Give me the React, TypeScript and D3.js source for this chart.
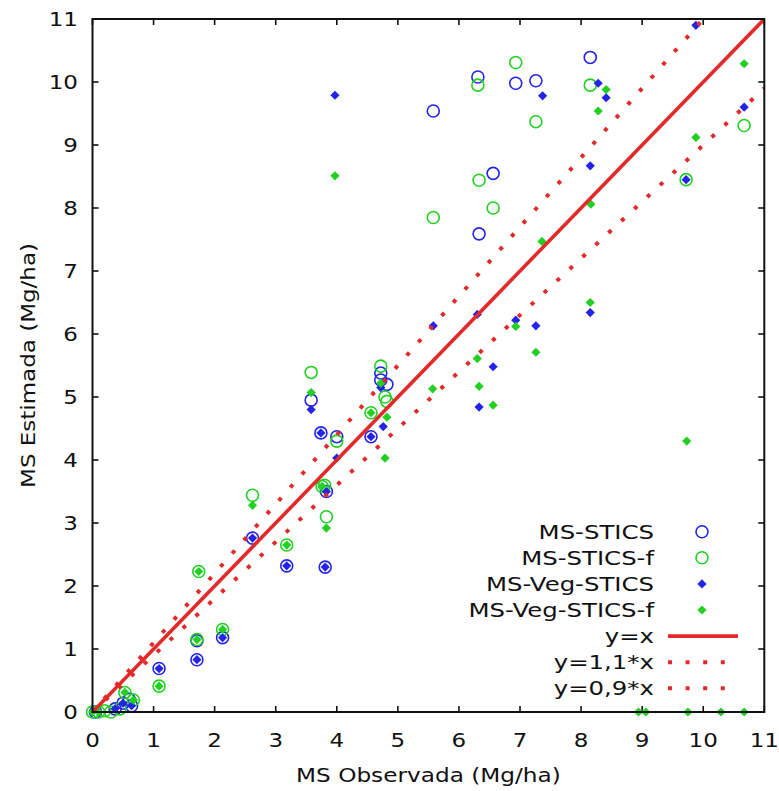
import React from "react";
import * as d3 from "d3";

const W = 779;
const H = 791;

const xTicks = [0, 1, 2, 3, 4, 5, 6, 7, 8, 9, 10, 11];
const yTicks = [0, 1, 2, 3, 4, 5, 6, 7, 8, 9, 10, 11];
const xLabel = "MS Observada (Mg/ha)";
const yLabel = "MS Estimada (Mg/ha)";

// [observed, estimated]
const msStics: [number, number][] = [
  [0.05, 0.0], [0.37, 0.05], [0.5, 0.14], [0.64, 0.1], [0.6, 0.2],
  [1.09, 0.69], [1.71, 0.83], [1.71, 1.13], [2.13, 1.18], [2.62, 2.76],
  [3.18, 2.32], [3.58, 4.95], [3.74, 4.43], [3.81, 2.3], [3.83, 3.5],
  [4.0, 4.37], [4.56, 4.37], [4.72, 5.38], [4.72, 5.27], [4.82, 5.2],
  [5.58, 9.54], [6.31, 10.08], [6.33, 7.59], [6.56, 8.55], [6.93, 9.98],
  [7.26, 10.02], [8.15, 10.39],
];

const msSticsF: [number, number][] = [
  [0.0, 0.0], [0.1, 0.0], [0.2, 0.02], [0.3, 0.0], [0.45, 0.05],
  [0.53, 0.31], [0.67, 0.19], [1.09, 0.41], [1.71, 1.15], [1.74, 2.23],
  [2.13, 1.31], [2.62, 3.44], [3.18, 2.65], [3.58, 5.39], [3.76, 3.58],
  [3.8, 3.6], [3.83, 3.1], [4.0, 4.3], [4.56, 4.75], [4.72, 5.49],
  [4.79, 5.0], [4.82, 4.93], [5.58, 7.85], [6.31, 9.95], [6.33, 8.44],
  [6.56, 8.0], [6.93, 10.31], [7.26, 9.37], [8.15, 9.95], [9.72, 8.45],
  [10.67, 9.31],
];

const msVegStics: [number, number][] = [
  [0.37, 0.05], [0.5, 0.14], [0.64, 0.1], [1.09, 0.69], [1.71, 0.83],
  [2.13, 1.18], [2.62, 2.76], [3.18, 2.32], [3.58, 4.8], [3.74, 4.43],
  [3.81, 2.3], [3.83, 3.5], [3.97, 9.79], [4.0, 4.03], [4.56, 4.37],
  [4.72, 5.15], [4.76, 4.53], [5.58, 6.13], [6.3, 6.31], [6.33, 4.84],
  [6.56, 5.48], [6.93, 6.22], [7.26, 6.13], [7.37, 9.78], [8.15, 8.67],
  [8.15, 6.34], [8.28, 9.98], [8.41, 9.75], [9.72, 8.45], [9.88, 10.9],
  [10.67, 9.6],
];

const msVegSticsF: [number, number][] = [
  [0.0, 0.0], [0.1, 0.0], [0.53, 0.31], [0.67, 0.19], [1.09, 0.41],
  [1.71, 1.15], [1.74, 2.23], [2.13, 1.31], [2.62, 3.28], [3.18, 2.65],
  [3.58, 5.07], [3.76, 3.58], [3.83, 2.92], [3.97, 8.51], [4.56, 4.75],
  [4.72, 5.22], [4.79, 4.03], [4.82, 4.68], [5.57, 5.13], [6.3, 5.61],
  [6.33, 5.17], [6.56, 4.87], [6.93, 6.12], [7.26, 5.71], [7.36, 7.47],
  [8.15, 6.5], [8.16, 8.06], [8.28, 9.54], [8.41, 9.88], [8.94, 0.0],
  [9.06, 0.0], [9.73, 4.3], [9.75, 0.0], [9.88, 9.12], [10.29, 0.0],
  [10.67, 10.29], [10.67, 0.0],
];

const refSlopes = [1, 1.1, 0.9];
const legendLabels = [
  "MS-STICS",
  "MS-STICS-f",
  "MS-Veg-STICS",
  "MS-Veg-STICS-f",
  "y=x",
  "y=1,1*x",
  "y=0,9*x",
];

const BLUE = "#2424e8";
const GREEN = "#22d022";
const RED = "#e22a2a";
const FONT = "DejaVu Sans, Verdana, sans-serif";
const DOTS = "4 13.6";

const diamond = (r: number) => `M0,${-r}L${r},0L0,${r}L${-r},0Z`;

export default function App() {
  const x = d3.scaleLinear().domain([0, 11]).range([92.5, 764.3]);
  const y = d3.scaleLinear().domain([0, 11]).range([712, 19]);
  const [x0, x1] = x.range();
  const [y0, y1] = y.range();
  const tickLen = 6;
  const fs = 20;

  const circles = (data: [number, number][], color: string, key: string) =>
    data.map((d, i) => (
      <circle key={key + i} cx={x(d[0])} cy={y(d[1])} r={6} fill="none" stroke={color} strokeWidth={1.6} />
    ));
  const diamonds = (data: [number, number][], color: string, key: string) =>
    data.map((d, i) => (
      <path key={key + i} d={diamond(4.6)} transform={`translate(${x(d[0])},${y(d[1])})`} fill={color} />
    ));

  const refLine = (k: number) => {
    const xe = Math.min(11, 11 / k);
    return d3.line()([
      [x(0), y(0)],
      [x(xe), y(k * xe)],
    ]) as string;
  };

  const legX = 654;
  const legSym = 702;
  const legY0 = 531.7;
  const legDy = 26.1;

  const hText = (key: string, tx: number, ty: number, s: string, anchor: string, sx = 1.15) => (
    <text
      key={key}
      transform={`translate(${tx},${ty}) scale(${sx},1)`}
      textAnchor={anchor}
      dominantBaseline="central"
      fontFamily={FONT}
      fontSize={fs}
      fill="#111"
    >
      {s}
    </text>
  );

  return (
    <svg width={W} height={H} style={{ position: "absolute", left: 0, top: 0, background: "#fff" }}>
      <defs>
        <clipPath id="plotclip">
          <rect x={x0} y={y1} width={x1 - x0} height={y0 - y1} />
        </clipPath>
      </defs>
      <rect x={0} y={0} width={W} height={H} fill="#fff" />

      {/* ticks */}
      <g stroke="#111" strokeWidth={1.6}>
        {xTicks.map((t) => (
          <g key={"xt" + t}>
            <line x1={x(t)} x2={x(t)} y1={y0} y2={y0 - tickLen} />
            <line x1={x(t)} x2={x(t)} y1={y1} y2={y1 + tickLen} />
          </g>
        ))}
        {yTicks.map((t) => (
          <g key={"yt" + t}>
            <line x1={x0} x2={x0 + tickLen} y1={y(t)} y2={y(t)} />
            <line x1={x1} x2={x1 - tickLen} y1={y(t)} y2={y(t)} />
          </g>
        ))}
      </g>

      {/* points */}
      <g>{circles(msStics, BLUE, "c1")}</g>
      <g>{circles(msSticsF, GREEN, "c2")}</g>
      <g>{diamonds(msVegStics, BLUE, "d1")}</g>
      <g>{diamonds(msVegSticsF, GREEN, "d2")}</g>

      {/* reference lines */}
      <g clipPath="url(#plotclip)" fill="none">
        <path d={refLine(refSlopes[0])} stroke={RED} strokeWidth={3.6} />
        <path d={refLine(refSlopes[1])} stroke={RED} strokeWidth={4} strokeDasharray={DOTS} />
        <path d={refLine(refSlopes[2])} stroke={RED} strokeWidth={4} strokeDasharray={DOTS} />
      </g>

      {/* frame */}
      <rect x={x0} y={y1} width={x1 - x0} height={y0 - y1} fill="none" stroke="#111" strokeWidth={2} />

      {/* tick labels */}
      {xTicks.map((t) => hText("xl" + t, x(t), 740.5, String(t), "middle"))}
      {yTicks.map((t) => hText("yl" + t, 78, y(t), String(t), "end"))}

      {/* axis titles */}
      {hText("xtitle", (x0 + x1) / 2, 775, xLabel, "middle", 1.16)}
      <text
        transform={`translate(28,${(y0 + y1) / 2}) rotate(-90) scale(1.15,1)`}
        textAnchor="middle"
        dominantBaseline="central"
        fontFamily={FONT}
        fontSize={fs}
        fill="#111"
      >
        {yLabel}
      </text>

      {/* legend */}
      {legendLabels.map((l, i) => hText("lg" + i, legX, legY0 + i * legDy, l, "end", 1.22))}
      <circle cx={legSym} cy={legY0} r={6} fill="none" stroke={BLUE} strokeWidth={1.6} />
      <circle cx={legSym} cy={legY0 + legDy} r={6} fill="none" stroke={GREEN} strokeWidth={1.6} />
      <path d={diamond(4.6)} transform={`translate(${legSym},${legY0 + 2 * legDy})`} fill={BLUE} />
      <path d={diamond(4.6)} transform={`translate(${legSym},${legY0 + 3 * legDy})`} fill={GREEN} />
      <line x1={668} x2={738} y1={legY0 + 4 * legDy} y2={legY0 + 4 * legDy} stroke={RED} strokeWidth={3.6} />
      <line x1={668} x2={738} y1={legY0 + 5 * legDy} y2={legY0 + 5 * legDy} stroke={RED} strokeWidth={4} strokeDasharray={DOTS} />
      <line x1={668} x2={738} y1={legY0 + 6 * legDy} y2={legY0 + 6 * legDy} stroke={RED} strokeWidth={4} strokeDasharray={DOTS} />
    </svg>
  );
}
